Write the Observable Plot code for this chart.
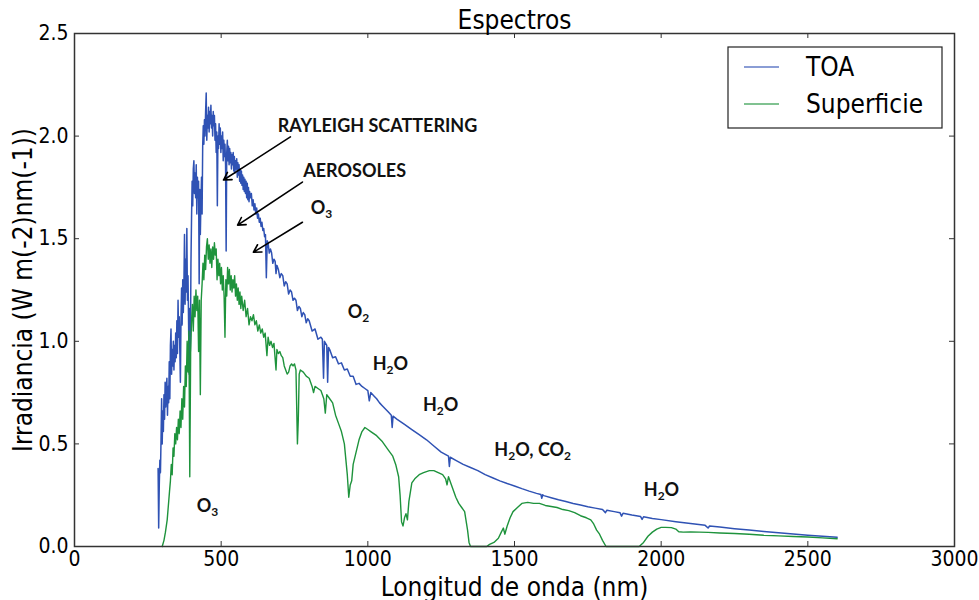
<!DOCTYPE html>
<html><head><meta charset="utf-8">
<script src="https://cdn.jsdelivr.net/npm/d3@7"></script>
<script src="https://cdn.jsdelivr.net/npm/@observablehq/plot@0.6"></script>
<style>
body{margin:0;background:#fff;}
#chart{width:979px;height:600px;}
svg text{font-stretch:condensed;}
</style></head><body><div id="chart"></div>
<script>
// ---- data ----
const toaNm = [285,287,289,291,293,295,297,299,301,303,305,307,309,311,313,315,317,319,321,323,325,327,329,331,333,335,337,339,341,343,345,347,349,351,353,355,357,359,361,363,365,367,369,371,373,375,377,379,381,383,385,387,389,391,393,395,397,399,401,403,405,407,409,411,413,415,417,419,421,423,425,427,429,431,433,435,437,439,441,443,445,447,449,451,453,455,457,459,461,463,465,467,469,471,473,475,477,479,481,483,485,487,489,491,493,495,497,499,501,503,505,507,509,511,513,515,517,519,521,523,525,527,529,531,533,535,537,539,541,543,545,547,549,551,553,555,557,559,561,563,565,567,569,571,573,575,577,579,581,583,585,587,589,591,593,595,597,600,603,606,609,612,615,618,621,624,627,630,633,636,639,642,645,648,651,654,657,660,664,668,672,676,680,684,687,690,695,700,705,710,715,720,725,730,735,740,745,750,755,760,765,770,775,780,785,790,795,800,810,820,830,840,845,849,852,856,860,863,866,870,880,890,900,910,920,930,940,950,960,970,980,990,1000,1005,1010,1020,1030,1040,1050,1060,1070,1080,1083,1086,1100,1125,1150,1175,1200,1225,1250,1275,1278,1281,1300,1325,1350,1375,1400,1425,1450,1475,1500,1525,1550,1575,1590,1593,1596,1600,1625,1650,1675,1700,1725,1750,1775,1800,1810,1815,1840,1860,1865,1870,1900,1930,1935,1940,1970,2000,2050,2100,2150,2160,2165,2200,2250,2300,2350,2400,2450,2500,2550,2600];
const toaVal = [0.38,0.09,0.30,0.42,0.36,0.52,0.72,0.50,0.66,0.56,0.74,0.62,0.80,0.68,0.76,0.82,0.64,0.78,0.70,0.90,0.72,0.98,1.06,0.84,0.96,0.88,1.00,0.86,0.98,0.90,1.04,0.92,1.10,0.94,1.20,1.02,1.12,0.96,0.80,1.10,1.26,1.08,1.30,1.14,1.28,1.52,1.18,1.40,1.24,1.55,1.20,1.32,1.08,0.84,1.16,0.95,1.38,1.60,1.78,1.66,1.84,1.88,1.72,1.82,1.70,1.86,1.62,1.80,1.70,1.78,1.28,1.74,1.52,1.68,1.80,1.62,1.95,2.05,1.96,2.08,2.00,2.12,2.21,1.98,2.10,2.04,2.14,2.02,2.12,2.06,2.15,2.04,2.10,2.00,2.12,2.05,2.10,1.98,2.06,1.92,2.02,1.66,2.00,1.94,2.06,1.96,2.04,1.92,2.00,1.94,2.02,1.88,1.98,1.90,1.96,1.86,1.44,1.92,1.98,1.88,1.95,1.86,1.94,1.87,1.92,1.84,1.91,1.86,1.92,1.83,1.90,1.82,1.88,1.84,1.89,1.80,1.87,1.81,1.86,1.78,1.84,1.77,1.83,1.76,1.81,1.74,1.80,1.73,1.79,1.72,1.78,1.70,1.77,1.69,1.75,1.68,1.73,1.70,1.72,1.66,1.69,1.64,1.67,1.62,1.65,1.60,1.62,1.58,1.60,1.56,1.58,1.54,1.55,1.51,1.52,1.31,1.49,1.48,1.43,1.45,1.43,1.38,1.40,1.39,1.33,1.37,1.35,1.31,1.33,1.32,1.27,1.29,1.28,1.23,1.25,1.24,1.20,1.21,1.20,1.15,1.17,1.16,1.12,1.14,1.13,1.09,1.11,1.10,1.05,1.06,1.01,1.02,1.01,0.82,1.00,0.99,0.98,0.80,0.97,0.96,0.92,0.925,0.89,0.895,0.86,0.865,0.83,0.83,0.79,0.795,0.78,0.77,0.76,0.71,0.75,0.735,0.72,0.70,0.685,0.67,0.655,0.64,0.58,0.635,0.62,0.595,0.57,0.545,0.52,0.49,0.46,0.44,0.39,0.435,0.42,0.40,0.385,0.37,0.35,0.335,0.32,0.307,0.295,0.282,0.27,0.259,0.253,0.235,0.252,0.248,0.238,0.228,0.219,0.21,0.202,0.194,0.187,0.18,0.165,0.177,0.17,0.164,0.148,0.162,0.153,0.146,0.132,0.145,0.137,0.131,0.121,0.112,0.103,0.09,0.10,0.095,0.087,0.08,0.073,0.067,0.061,0.055,0.05,0.045];

const supNm = [299,305,310,316,320,324,327,330,333,336,339,342,345,348,351,354,357,360,363,366,369,372,375,378,381,384,387,390,393,396,399,402,405,408,411,414,417,420,423,426,429,432,435,438,441,444,447,450,453,456,459,462,465,468,471,474,477,480,483,486,489,492,495,498,501,504,507,510,513,516,519,522,525,528,531,534,537,540,543,546,549,552,555,558,561,564,567,570,575,580,585,590,595,600,605,610,615,620,625,630,635,640,645,650,656,660,665,670,675,680,687,690,695,700,705,710,715,720,725,730,735,740,745,750,755,760,763,766,770,780,790,800,810,815,820,830,840,850,855,860,870,880,890,900,910,920,930,935,940,945,950,960,970,980,990,1000,1010,1030,1050,1070,1085,1095,1105,1110,1115,1120,1125,1130,1135,1140,1150,1160,1175,1190,1210,1225,1240,1255,1265,1270,1275,1285,1300,1310,1320,1330,1340,1345,1350,1405,1415,1430,1445,1455,1462,1467,1475,1485,1495,1510,1525,1545,1565,1585,1605,1625,1645,1665,1685,1705,1725,1745,1760,1770,1780,1790,1800,1812,1925,1940,1955,1970,1985,2000,2015,2035,2050,2060,2075,2100,2130,2160,2200,2250,2300,2350,2400,2450,2500,2550,2600];
const supVal = [0.00,0.03,0.07,0.13,0.20,0.27,0.32,0.40,0.35,0.48,0.44,0.55,0.50,0.58,0.52,0.62,0.55,0.66,0.58,0.72,0.62,0.78,0.68,0.88,0.78,1.00,0.85,1.05,0.34,0.95,1.10,1.18,1.05,1.22,1.12,1.25,1.15,1.22,0.95,1.20,0.74,1.20,1.28,1.38,1.30,1.42,1.35,1.46,1.50,1.40,1.47,1.38,1.45,1.36,1.46,1.40,1.48,1.42,1.45,1.30,1.40,1.32,1.38,1.28,1.36,1.25,1.32,1.22,1.02,1.30,1.22,1.36,1.28,1.35,1.25,1.32,1.24,1.30,1.26,1.32,1.22,1.28,1.20,1.26,1.18,1.24,1.16,1.22,1.15,1.20,1.12,1.16,1.08,1.12,1.10,1.13,1.08,1.10,1.05,1.08,1.04,1.06,1.02,1.04,0.93,1.02,0.98,1.00,0.97,0.99,0.86,0.96,0.94,0.95,0.93,0.92,0.88,0.86,0.84,0.85,0.88,0.89,0.88,0.89,0.86,0.50,0.62,0.84,0.86,0.85,0.83,0.82,0.78,0.75,0.78,0.77,0.76,0.72,0.65,0.74,0.72,0.70,0.64,0.60,0.56,0.50,0.35,0.24,0.30,0.32,0.40,0.46,0.52,0.56,0.58,0.57,0.56,0.54,0.51,0.47,0.44,0.40,0.34,0.25,0.12,0.10,0.14,0.16,0.13,0.22,0.31,0.33,0.35,0.36,0.37,0.37,0.36,0.35,0.33,0.30,0.34,0.30,0.24,0.21,0.19,0.17,0.08,0.02,0.00,0.00,0.01,0.02,0.04,0.07,0.09,0.06,0.10,0.14,0.17,0.19,0.21,0.215,0.21,0.21,0.20,0.195,0.19,0.18,0.175,0.165,0.15,0.14,0.13,0.11,0.08,0.06,0.03,0.00,0.00,0.02,0.05,0.07,0.085,0.093,0.093,0.092,0.085,0.072,0.07,0.071,0.07,0.069,0.066,0.063,0.06,0.055,0.052,0.049,0.046,0.042,0.038];

const seriesNames = ["TOA", "Superficie"];
const seriesColors = ["#2f52b4", "#1e933c"];
const xTicks = [0, 500, 1000, 1500, 2000, 2500, 3000];
const yTicks = [0, 0.5, 1.0, 1.5, 2.0, 2.5];
const titleText = "Espectros";
const xLabel = "Longitud de onda (nm)";
const yLabel = "Irradiancia (W m(-2)nm(-1))";

const annText = ["RAYLEIGH SCATTERING", "AEROSOLES", "O3", "O2", "H2O", "H2O", "H2O, CO2", "H2O", "O3"];
const annNm   = [1033, 955, 842, 968, 1077, 1248, 1562, 2001, 453];
const annVal  = [2.05, 1.83, 1.65, 1.14, 0.89, 0.687, 0.467, 0.272, 0.194];

const arrFromNm  = [736, 777, 777];
const arrFromVal = [1.996, 1.776, 1.58];
const arrToNm    = [508, 556, 610];
const arrToVal   = [1.786, 1.566, 1.434];

// ---- build ----
const toa = toaNm.map((x, i) => ({x, y: toaVal[i]}));
const sup = supNm.map((x, i) => ({x, y: supVal[i]}));
const ann = annText.map((t, i) => ({t, x: annNm[i], y: annVal[i]}));
const arrows = arrFromNm.map((x1, i) => ({x1, y1: arrFromVal[i], x2: arrToNm[i], y2: arrToVal[i]}));

const W = 979, H = 600, mL = 74, mR = 25, mT = 33, mB = 54;
const innerW = W - mL - mR, innerH = H - mT - mB;
const tickLen = 5;
const baseFont = "'DejaVu Sans Condensed','DejaVu Sans',sans-serif";

const plot = Plot.plot({
  width: W, height: H,
  marginLeft: mL, marginRight: mR, marginTop: mT, marginBottom: mB,
  x: {domain: [0, 3000]},
  y: {domain: [0, 2.5]},
  style: {fontFamily: baseFont, background: "#fff", color: "#000", overflow: "visible"},
  marks: [
    Plot.line(toa, {x: "x", y: "y", stroke: seriesColors[0], strokeWidth: 1.5}),
    Plot.line(sup, {x: "x", y: "y", stroke: seriesColors[1], strokeWidth: 1.4}),
    Plot.tickX(xTicks, {x: d => d, insetTop: innerH - tickLen, stroke: "#333"}),
    Plot.tickX(xTicks, {x: d => d, insetBottom: innerH - tickLen, stroke: "#333"}),
    Plot.tickY(yTicks, {y: d => d, insetRight: innerW - tickLen, stroke: "#333"}),
    Plot.tickY(yTicks, {y: d => d, insetLeft: innerW - tickLen, stroke: "#333"}),
    Plot.frame({stroke: "#333", strokeWidth: 1.5}),
    Plot.axisX({ticks: xTicks, tickSize: 0, tickPadding: 5, fontSize: 21, label: null, tickFormat: d => String(d)}),
    Plot.axisY({ticks: yTicks, tickSize: 0, tickPadding: 6, fontSize: 21, label: null, tickFormat: d => d.toFixed(1)}),
    Plot.arrow(arrows, {x1: "x1", y1: "y1", x2: "x2", y2: "y2", stroke: "#000", strokeWidth: 1.6, headLength: 8, bend: 0}),
    Plot.text(ann, {x: "x", y: "y", text: "t", fontFamily: "Lato", fontWeight: "bold", fontSize: 18, fill: "#111"}),
    Plot.text([titleText], {text: d => d, frameAnchor: "top", textAnchor: "middle", lineAnchor: "middle", dy: -13, fontSize: 26}),
    Plot.text([xLabel], {text: d => d, frameAnchor: "bottom", textAnchor: "middle", lineAnchor: "middle", dy: 41, fontSize: 26}),
    Plot.text([yLabel], {text: d => d, frameAnchor: "left", textAnchor: "middle", lineAnchor: "middle", rotate: -90, dx: -51, fontSize: 26})
  ]
});

// chemical subscripts as real text (tspans)
const svgns = "http://www.w3.org/2000/svg";
const subSet = new Set(annText.filter(t => /\d/.test(t)));
d3.select(plot).selectAll("text").each(function () {
  const t = this.textContent;
  if (!subSet.has(t) || this.querySelector("tspan")) return;
  this.textContent = "";
  let shifted = false;
  t.split(/(\d)/).filter(s => s).forEach(p => {
    const ts = document.createElementNS(svgns, "tspan");
    ts.textContent = p;
    if (/^\d$/.test(p)) { ts.setAttribute("font-size", "12"); ts.setAttribute("dy", "4"); shifted = true; }
    else if (shifted) { ts.setAttribute("dy", "-4"); shifted = false; }
    this.appendChild(ts);
  });
});

// legend (inside the frame, upper right)
const lg = d3.select(plot).append("g").attr("font-family", baseFont).attr("font-size", 26).attr("text-anchor", "start");
lg.append("rect").attr("x", 728).attr("y", 47).attr("width", 214).attr("height", 81)
  .attr("fill", "#fff").attr("stroke", "#222").attr("stroke-width", 1.2);
seriesNames.forEach((name, i) => {
  const cy = 67 + i * 37;
  lg.append("line").attr("x1", 744).attr("x2", 779).attr("y1", cy).attr("y2", cy)
    .attr("stroke", seriesColors[i]).attr("stroke-width", 1.5).attr("opacity", 0.75);
  lg.append("text").attr("x", 806).attr("y", cy).attr("dy", "0.36em").attr("text-anchor", "start").text(name);
});

document.getElementById("chart").appendChild(plot);
</script>
</body></html>
